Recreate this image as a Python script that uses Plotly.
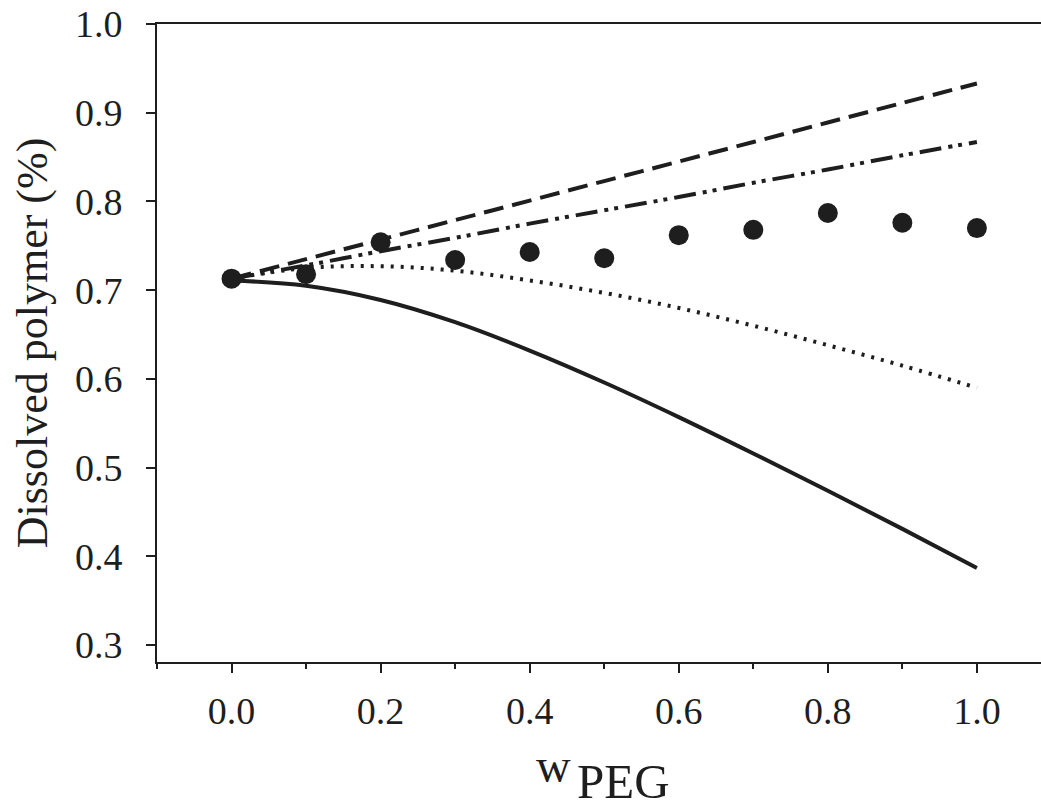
import plotly.graph_objects as go

w_peg = [0.0, 0.1, 0.2, 0.3, 0.4, 0.5, 0.6, 0.7, 0.8, 0.9, 1.0]
measured = [0.713, 0.718, 0.754, 0.734, 0.743, 0.736, 0.762, 0.768, 0.787, 0.776, 0.770]
model_dashed = [0.713, 0.735, 0.757, 0.779, 0.801, 0.823, 0.845, 0.867, 0.889, 0.911, 0.933]
model_dashdot = [0.713, 0.728, 0.744, 0.759, 0.775, 0.790, 0.805, 0.821, 0.836, 0.852, 0.867]
model_dotted = [0.713, 0.725, 0.727, 0.722, 0.711, 0.697, 0.680, 0.660, 0.638, 0.615, 0.590]
model_solid = [0.711, 0.705, 0.689, 0.664, 0.632, 0.596, 0.557, 0.516, 0.474, 0.431, 0.387]

y_ticks = [0.3, 0.4, 0.5, 0.6, 0.7, 0.8, 0.9, 1.0]
x_ticks = [0.0, 0.2, 0.4, 0.6, 0.8, 1.0]
x_minor_ticks = [-0.1, 0.1, 0.3, 0.5, 0.7, 0.9]

ink = "#1e1e1e"
font = "Liberation Serif"

fig = go.Figure()
fig.add_trace(go.Scatter(x=w_peg, y=model_dashed, mode="lines",
                         line=dict(color=ink, width=4, dash="20px,9px", shape="spline")))
fig.add_trace(go.Scatter(x=w_peg, y=model_dashdot, mode="lines",
                         line=dict(color=ink, width=4, dash="22px,7px,4px,6px,4px,7px", shape="spline")))
fig.add_trace(go.Scatter(x=w_peg, y=model_dotted, mode="lines",
                         line=dict(color=ink, width=4, dash="3px,7px", shape="spline")))
fig.add_trace(go.Scatter(x=w_peg, y=model_solid, mode="lines",
                         line=dict(color=ink, width=4, shape="spline")))
fig.add_trace(go.Scatter(x=w_peg, y=measured, mode="markers",
                         marker=dict(color=ink, size=20, symbol="circle")))

fig.update_layout(
    width=1041, height=809,
    margin=dict(l=157, r=0, t=24, b=147),
    paper_bgcolor="white", plot_bgcolor="white",
    showlegend=False,
    font=dict(family=font, color=ink, size=38),
)
fig.update_xaxes(
    range=[-0.1, 1.086], tickvals=x_ticks, ticktext=[f"{v:.1f}" for v in x_ticks],
    showgrid=False, zeroline=False, showline=True, linecolor=ink, linewidth=2,
    mirror=True, ticks="outside", ticklen=9, tickwidth=2, tickcolor=ink,
    ticklabelstandoff=5,
    minor=dict(tickvals=x_minor_ticks, ticks="outside", ticklen=5,
               tickwidth=1.5, tickcolor=ink, showgrid=False),
    tickfont=dict(size=38, family=font, color=ink),
)
fig.update_yaxes(
    range=[0.281, 1.0], tickvals=y_ticks, ticktext=[f"{v:.1f}" for v in y_ticks],
    showgrid=False, zeroline=False, showline=True, linecolor=ink, linewidth=2,
    ticks="outside", ticklen=9, tickwidth=2, tickcolor=ink, ticklabelstandoff=16,
    tickfont=dict(size=38, family=font, color=ink),
    title=dict(text="Dissolved polymer (%)", font=dict(size=44, family=font, color=ink),
               standoff=14),
)

# x-axis title: "w" raised, followed by larger "PEG"
fig.add_annotation(text="w", xref="paper", yref="paper", x=0.449, y=-0.163,
                   xanchor="center", yanchor="middle", showarrow=False, borderpad=0,
                   font=dict(size=48, family=font, color=ink))
fig.add_annotation(text="PEG", xref="paper", yref="paper", x=0.528, y=-0.1878,
                   xanchor="center", yanchor="middle", showarrow=False, borderpad=0,
                   font=dict(size=49, family=font, color=ink))

fig.write_html("out.html", config={"displayModeBar": False},
               post_script="document.body.style.margin='0';")
